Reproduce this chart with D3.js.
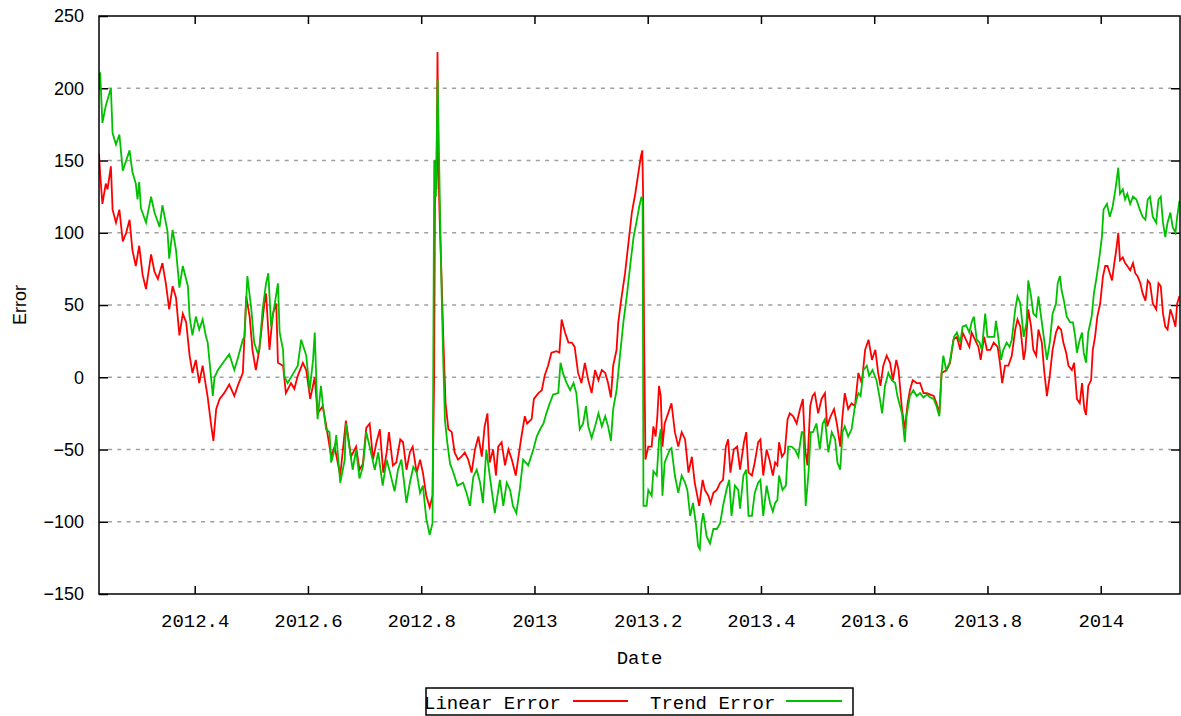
<!DOCTYPE html>
<html lang="en">

<head>
  <meta charset="UTF-8" />
  <title>Linear Error vs Trend Error</title>
  <script src="https://d3js.org/d3.v7.min.js"></script>
  <style>
    body {
      margin: 0;
      background-color: #ffffff;
    }

    .ytick text {
      font-family: "Liberation Sans", Arial, sans-serif;
      font-size: 18px;
      fill: #000;
    }

    .xtick text,
    .legend text,
    .xlabel {
      font-family: "Liberation Mono", "DejaVu Sans Mono", monospace;
      font-size: 19px;
      fill: #000;
    }

    .ylabel {
      font-family: "Liberation Sans", Arial, sans-serif;
      font-size: 18px;
      fill: #000;
    }
  </style>
</head>

<body>
  <div id="chart"></div>

  <script>
    // [date, error]
    const linearError = [
      [2012.231, 155], [2012.233, 141], [2012.237, 120], [2012.243, 134], [2012.246, 130], [2012.252, 146],
      [2012.255, 116], [2012.261, 107], [2012.267, 116], [2012.273, 94], [2012.279, 100], [2012.285, 109],
      [2012.290, 88], [2012.296, 77], [2012.302, 91], [2012.308, 71], [2012.314, 61], [2012.323, 85],
      [2012.329, 73], [2012.335, 68], [2012.343, 79], [2012.349, 65], [2012.355, 47], [2012.361, 63],
      [2012.367, 55], [2012.373, 29], [2012.379, 44], [2012.385, 38], [2012.391, 15], [2012.396, 3],
      [2012.402, 12], [2012.408, -4], [2012.414, 8], [2012.423, -14], [2012.429, -33], [2012.433, -44],
      [2012.438, -22], [2012.444, -15], [2012.452, -11], [2012.461, -5], [2012.470, -13], [2012.476, -6],
      [2012.485, 3], [2012.491, 56], [2012.497, 42], [2012.502, 19], [2012.508, 5], [2012.514, 19],
      [2012.523, 51], [2012.526, 58], [2012.532, 19], [2012.538, 44], [2012.544, 51], [2012.547, 10],
      [2012.556, 8], [2012.561, -11], [2012.570, -4], [2012.576, -8], [2012.582, 1], [2012.591, 10],
      [2012.597, 5], [2012.604, -15], [2012.612, 0], [2012.617, -25], [2012.626, -20], [2012.632, -33],
      [2012.641, -55], [2012.647, -48], [2012.653, -60], [2012.657, -68], [2012.667, -30], [2012.676, -55],
      [2012.685, -48], [2012.691, -64], [2012.697, -60], [2012.703, -35], [2012.709, -32], [2012.715, -57],
      [2012.721, -45], [2012.727, -36], [2012.733, -66], [2012.739, -52], [2012.743, -38], [2012.750, -61],
      [2012.756, -59], [2012.763, -43], [2012.768, -45], [2012.774, -64], [2012.780, -52], [2012.785, -48],
      [2012.792, -66], [2012.798, -57], [2012.803, -66], [2012.809, -82], [2012.815, -90], [2012.820, -82],
      [2012.8223, -15], [2012.8229, 1], [2012.8246, 150], [2012.827, 130], [2012.8288, 225], [2012.8305, 143],
      [2012.833, 104], [2012.836, 68], [2012.839, 28], [2012.843, -18], [2012.848, -36], [2012.854, -38],
      [2012.859, -52], [2012.865, -57], [2012.871, -55], [2012.877, -52], [2012.883, -57], [2012.889, -66],
      [2012.895, -50], [2012.901, -41], [2012.907, -55], [2012.912, -34], [2012.917, -25], [2012.921, -59],
      [2012.927, -50], [2012.932, -68], [2012.936, -48], [2012.942, -45], [2012.948, -61], [2012.954, -50],
      [2012.960, -57], [2012.967, -68], [2012.971, -57], [2012.977, -41], [2012.983, -27], [2012.987, -32],
      [2012.995, -29], [2012.999, -15], [2013.007, -11], [2013.013, -9], [2013.018, 1], [2013.024, 8],
      [2013.030, 17], [2013.039, 18], [2013.044, 17], [2013.048, 40], [2013.054, 31], [2013.060, 24],
      [2013.066, 24], [2013.071, 21], [2013.077, 3], [2013.083, -4], [2013.089, 10], [2013.095, -2],
      [2013.101, -11], [2013.107, 5], [2013.113, -2], [2013.119, 5], [2013.125, 3], [2013.130, -4],
      [2013.135, -14], [2013.139, 8], [2013.145, 19], [2013.148, 38], [2013.154, 56], [2013.160, 72],
      [2013.166, 93], [2013.172, 114], [2013.178, 127], [2013.183, 140], [2013.188, 153], [2013.1905, 157],
      [2013.192, 124], [2013.1936, 30], [2013.196, -57], [2013.201, -48], [2013.207, -48], [2013.210, -34],
      [2013.214, -41], [2013.217, -27], [2013.220, -6], [2013.223, -13], [2013.226, -48], [2013.230, -32],
      [2013.236, -25], [2013.242, -18], [2013.248, -38], [2013.254, -48], [2013.260, -38], [2013.266, -43],
      [2013.272, -66], [2013.278, -55], [2013.283, -73], [2013.291, -89], [2013.297, -71], [2013.301, -78],
      [2013.307, -82], [2013.311, -87], [2013.316, -80], [2013.322, -78], [2013.328, -73], [2013.333, -71],
      [2013.338, -48], [2013.342, -43], [2013.346, -66], [2013.352, -50], [2013.358, -48], [2013.363, -64],
      [2013.370, -45], [2013.374, -38], [2013.378, -66], [2013.384, -68], [2013.389, -59], [2013.395, -45],
      [2013.399, -43], [2013.404, -68], [2013.410, -50], [2013.415, -57], [2013.421, -68], [2013.425, -59],
      [2013.429, -61], [2013.432, -45], [2013.437, -55], [2013.442, -52], [2013.447, -29], [2013.451, -25],
      [2013.457, -27], [2013.463, -32], [2013.469, -22], [2013.474, -15], [2013.478, -50], [2013.482, -61],
      [2013.487, -20], [2013.491, -13], [2013.495, -11], [2013.501, -25], [2013.507, -15], [2013.513, -11],
      [2013.517, -34], [2013.523, -27], [2013.529, -22], [2013.534, -32], [2013.540, -48], [2013.544, -27],
      [2013.548, -11], [2013.554, -22], [2013.560, -18], [2013.566, -20], [2013.572, 3], [2013.578, -4],
      [2013.584, 19], [2013.590, 26], [2013.596, 12], [2013.602, 19], [2013.607, 3], [2013.611, -6],
      [2013.616, 8], [2013.622, 15], [2013.628, 10], [2013.633, -2], [2013.639, 12], [2013.643, 5],
      [2013.649, -22], [2013.654, -36], [2013.659, -18], [2013.663, -9], [2013.668, -2], [2013.675, -4],
      [2013.681, -4], [2013.687, -11], [2013.693, -11], [2013.699, -12], [2013.705, -13], [2013.710, -18],
      [2013.715, -25], [2013.719, 3], [2013.728, 5], [2013.734, 10], [2013.740, 26], [2013.746, 28],
      [2013.752, 19], [2013.756, 31], [2013.762, 26], [2013.768, 21], [2013.772, 31], [2013.778, 26],
      [2013.784, 21], [2013.788, 12], [2013.794, 28], [2013.799, 19], [2013.805, 19], [2013.811, 24],
      [2013.818, 21], [2013.822, 10], [2013.826, -4], [2013.831, 8], [2013.837, 8], [2013.843, 15],
      [2013.849, 33], [2013.853, 40], [2013.858, 35], [2013.864, 12], [2013.867, 19], [2013.872, 47],
      [2013.877, 35], [2013.881, 19], [2013.886, 15], [2013.890, 33], [2013.896, 24], [2013.900, 5],
      [2013.905, -13], [2013.910, 1], [2013.915, 19], [2013.921, 31], [2013.925, 35], [2013.930, 33],
      [2013.934, 24], [2013.939, 17], [2013.943, 8], [2013.949, 5], [2013.953, 10], [2013.958, -15],
      [2013.963, -18], [2013.967, -4], [2013.971, -22], [2013.974, -26], [2013.978, -6], [2013.983, -2],
      [2013.986, 19], [2013.990, 28], [2013.994, 42], [2013.999, 51], [2014.004, 70], [2014.008, 77],
      [2014.012, 77], [2014.016, 72], [2014.020, 67], [2014.024, 79], [2014.027, 87], [2014.031, 100],
      [2014.034, 81], [2014.039, 83], [2014.043, 79], [2014.047, 77], [2014.052, 74], [2014.057, 79],
      [2014.061, 72], [2014.065, 70], [2014.070, 65], [2014.074, 58], [2014.079, 53], [2014.083, 67],
      [2014.087, 65], [2014.092, 51], [2014.098, 47], [2014.102, 65], [2014.106, 63], [2014.110, 44],
      [2014.114, 35], [2014.118, 33], [2014.123, 47], [2014.127, 42], [2014.132, 35], [2014.135, 51],
      [2014.139, 56]
    ];

    const trendError = [
      [2012.231, 200], [2012.233, 211], [2012.237, 176], [2012.243, 188], [2012.252, 200], [2012.255, 169],
      [2012.261, 161], [2012.267, 168], [2012.273, 143], [2012.285, 157], [2012.290, 142], [2012.296, 134],
      [2012.299, 123], [2012.302, 135], [2012.305, 117], [2012.314, 107], [2012.323, 125], [2012.329, 114],
      [2012.338, 104], [2012.343, 119], [2012.352, 101], [2012.355, 82], [2012.361, 102], [2012.367, 88],
      [2012.373, 62], [2012.379, 77], [2012.388, 63], [2012.391, 42], [2012.396, 29], [2012.402, 42],
      [2012.408, 33], [2012.414, 40], [2012.420, 28], [2012.423, 24], [2012.432, -13], [2012.435, 0],
      [2012.441, 5], [2012.450, 10], [2012.461, 16], [2012.470, 5], [2012.476, 13], [2012.485, 26],
      [2012.488, 28], [2012.493, 70], [2012.500, 47], [2012.505, 24], [2012.511, 17], [2012.514, 19],
      [2012.520, 47], [2012.526, 65], [2012.530, 72], [2012.535, 35], [2012.547, 65], [2012.550, 31],
      [2012.556, 19], [2012.558, 1], [2012.564, -4], [2012.573, 2], [2012.582, 8], [2012.588, 26],
      [2012.597, 15], [2012.603, -9], [2012.609, 12], [2012.612, 31], [2012.617, -29], [2012.623, -6],
      [2012.626, -18], [2012.632, -36], [2012.638, -38], [2012.641, -59], [2012.647, -50], [2012.650, -40],
      [2012.657, -73], [2012.665, -57], [2012.667, -32], [2012.679, -64], [2012.685, -50], [2012.691, -70],
      [2012.697, -62], [2012.703, -38], [2012.709, -48], [2012.718, -64], [2012.724, -52], [2012.732, -75],
      [2012.739, -57], [2012.745, -66], [2012.753, -79], [2012.759, -64], [2012.765, -57], [2012.774, -87],
      [2012.780, -73], [2012.786, -62], [2012.792, -66], [2012.798, -80], [2012.803, -75], [2012.809, -98],
      [2012.815, -109], [2012.820, -101], [2012.823, 150], [2012.826, 125], [2012.829, 206], [2012.833, 120],
      [2012.836, 60], [2012.839, 10], [2012.842, -30], [2012.846, -45], [2012.851, -60], [2012.856, -65],
      [2012.864, -75], [2012.874, -73], [2012.880, -80], [2012.886, -89], [2012.892, -69], [2012.898, -64],
      [2012.904, -73], [2012.909, -87], [2012.915, -50], [2012.921, -68], [2012.930, -94], [2012.939, -71],
      [2012.945, -89], [2012.951, -73], [2012.957, -78], [2012.962, -89], [2012.968, -94], [2012.974, -78],
      [2012.980, -57], [2012.989, -61], [2012.998, -50], [2013.004, -41], [2013.010, -36], [2013.016, -32],
      [2013.021, -25], [2013.027, -18], [2013.033, -12], [2013.042, -11], [2013.046, 10], [2013.051, 2],
      [2013.057, -4], [2013.063, -9], [2013.069, -4], [2013.074, -11], [2013.080, -36], [2013.086, -32],
      [2013.091, -20], [2013.095, -34], [2013.101, -42], [2013.107, -34], [2013.113, -25], [2013.119, -34],
      [2013.125, -27], [2013.130, -34], [2013.135, -44], [2013.139, -22], [2013.145, -9], [2013.151, 15],
      [2013.157, 38], [2013.163, 56], [2013.169, 77], [2013.175, 97], [2013.180, 107], [2013.185, 118],
      [2013.189, 125], [2013.191, 122], [2013.1925, -89], [2013.198, -89], [2013.201, -78], [2013.207, -82],
      [2013.210, -65], [2013.216, -68], [2013.220, -43], [2013.223, -36], [2013.226, -82], [2013.230, -59],
      [2013.239, -50], [2013.242, -49], [2013.248, -68], [2013.254, -80], [2013.260, -68], [2013.266, -73],
      [2013.270, -78], [2013.275, -96], [2013.280, -87], [2013.285, -101], [2013.289, -117], [2013.292, -119],
      [2013.295, -101], [2013.298, -94], [2013.304, -110], [2013.310, -115], [2013.316, -105], [2013.322, -105],
      [2013.328, -101], [2013.333, -89], [2013.339, -78], [2013.344, -71], [2013.348, -96], [2013.354, -75],
      [2013.360, -78], [2013.363, -91], [2013.369, -68], [2013.374, -64], [2013.378, -96], [2013.384, -96],
      [2013.389, -80], [2013.395, -73], [2013.399, -71], [2013.404, -96], [2013.410, -75], [2013.416, -87],
      [2013.421, -93], [2013.425, -87], [2013.429, -85], [2013.432, -68], [2013.438, -78], [2013.444, -75],
      [2013.448, -48], [2013.454, -48], [2013.460, -50], [2013.466, -55], [2013.472, -38], [2013.475, -38],
      [2013.479, -89], [2013.484, -66], [2013.488, -38], [2013.492, -38], [2013.498, -32], [2013.504, -50],
      [2013.509, -32], [2013.513, -29], [2013.519, -52], [2013.525, -38], [2013.531, -43], [2013.535, -59],
      [2013.540, -64], [2013.544, -38], [2013.548, -34], [2013.554, -41], [2013.560, -36], [2013.566, -20],
      [2013.572, -11], [2013.576, -13], [2013.581, 5], [2013.587, 8], [2013.591, 1], [2013.597, 5],
      [2013.604, -2], [2013.610, -15], [2013.614, -25], [2013.619, -6], [2013.625, 3], [2013.631, -2],
      [2013.637, -4], [2013.641, -13], [2013.649, -25], [2013.654, -45], [2013.657, -27], [2013.663, -13],
      [2013.669, -9], [2013.675, -13], [2013.681, -11], [2013.687, -14], [2013.693, -12], [2013.699, -14],
      [2013.705, -15], [2013.710, -20], [2013.715, -27], [2013.719, 3], [2013.722, 15], [2013.727, 5],
      [2013.733, 10], [2013.737, 19], [2013.741, 28], [2013.746, 31], [2013.752, 24], [2013.756, 35],
      [2013.762, 36], [2013.768, 31], [2013.772, 38], [2013.776, 42], [2013.781, 26], [2013.786, 24],
      [2013.790, 19], [2013.796, 44], [2013.800, 28], [2013.806, 28], [2013.812, 28], [2013.815, 39],
      [2013.819, 28], [2013.824, 12], [2013.828, 19], [2013.834, 24], [2013.839, 21], [2013.843, 26],
      [2013.849, 47], [2013.853, 56], [2013.858, 51], [2013.864, 28], [2013.869, 38], [2013.872, 67],
      [2013.877, 56], [2013.881, 44], [2013.886, 42], [2013.890, 56], [2013.896, 38], [2013.900, 26],
      [2013.905, 12], [2013.910, 24], [2013.915, 44], [2013.921, 51], [2013.924, 65], [2013.928, 70],
      [2013.931, 60], [2013.935, 53], [2013.940, 42], [2013.946, 38], [2013.951, 38], [2013.955, 28],
      [2013.958, 17], [2013.963, 26], [2013.967, 31], [2013.970, 17], [2013.974, 10], [2013.978, 31],
      [2013.984, 42], [2013.988, 58], [2013.993, 70], [2013.998, 84], [2014.002, 97], [2014.005, 116],
      [2014.011, 120], [2014.016, 111], [2014.021, 118], [2014.026, 130], [2014.029, 139], [2014.031, 145],
      [2014.034, 127], [2014.039, 130], [2014.043, 123], [2014.047, 127], [2014.052, 120], [2014.057, 125],
      [2014.063, 123], [2014.069, 116], [2014.074, 111], [2014.079, 109], [2014.083, 123], [2014.087, 125],
      [2014.092, 111], [2014.098, 107], [2014.102, 123], [2014.106, 125], [2014.110, 107], [2014.114, 97],
      [2014.118, 107], [2014.123, 114], [2014.127, 104], [2014.132, 100], [2014.135, 111], [2014.139, 122]
    ];

    const xTicks = [2012.4, 2012.6, 2012.8, 2013, 2013.2, 2013.4, 2013.6, 2013.8, 2014];
    const xTickLabels = ["2012.4", "2012.6", "2012.8", "2013", "2013.2", "2013.4", "2013.6", "2013.8", "2014"];
    const yTicks = [-150, -100, -50, 0, 50, 100, 150, 200, 250];
    const gridTicks = [-100, -50, 0, 50, 100, 150, 200];

    const seriesNames = ["Linear Error", "Trend Error"];
    const seriesColors = ["#ff0000", "#00c000"];

    const W = 1181, H = 716;
    const margin = { top: 16, right: 1, bottom: 122, left: 99 };
    const width = W - margin.left - margin.right;
    const height = H - margin.top - margin.bottom;

    const x = d3.scaleLinear().domain([2012.231, 2014.14]).range([0, width]);
    const y = d3.scaleLinear().domain([-150, 250]).range([height, 0]);

    const svg = d3.select("#chart")
      .append("svg")
      .attr("width", W)
      .attr("height", H)
      .append("g")
      .attr("transform", `translate(${margin.left},${margin.top})`);

    svg.append("defs").append("clipPath").attr("id", "plot-clip")
      .append("rect").attr("width", width).attr("height", height);

    // dashed grid
    svg.append("g")
      .selectAll("line")
      .data(gridTicks)
      .enter()
      .append("line")
      .attr("x1", 9)
      .attr("x2", width - 9)
      .attr("y1", d => y(d))
      .attr("y2", d => y(d))
      .attr("stroke", "#a0a0a0")
      .attr("stroke-width", 1.5)
      .attr("stroke-dasharray", "4,5.3");

    // left axis + mirrored right ticks
    const yAxis = svg.append("g")
      .attr("class", "ytick")
      .call(d3.axisLeft(y).tickValues(yTicks).tickSize(-9).tickPadding(15));
    yAxis.select(".domain").remove();
    yAxis.selectAll("line").attr("stroke", "#000").attr("stroke-width", 1.5);

    svg.append("g")
      .attr("transform", `translate(${width},0)`)
      .call(d3.axisRight(y).tickValues(gridTicks).tickSize(-9).tickFormat(""))
      .call(g => g.select(".domain").remove())
      .selectAll("line").attr("stroke", "#000").attr("stroke-width", 1.5);

    // bottom axis + mirrored top ticks
    const xAxis = svg.append("g")
      .attr("class", "xtick")
      .attr("transform", `translate(0,${height})`)
      .call(d3.axisBottom(x).tickValues(xTicks).tickSize(-8).tickPadding(20)
        .tickFormat((d, i) => xTickLabels[i]));
    xAxis.select(".domain").remove();
    xAxis.selectAll("line").attr("stroke", "#000").attr("stroke-width", 1.5);

    svg.append("g")
      .call(d3.axisTop(x).tickValues(xTicks).tickSize(-8).tickFormat(""))
      .call(g => g.select(".domain").remove())
      .selectAll("line").attr("stroke", "#000").attr("stroke-width", 1.5);

    // lines
    const line = d3.line().x(d => x(d[0])).y(d => y(d[1]));
    const plot = svg.append("g").attr("clip-path", "url(#plot-clip)");
    [linearError, trendError].forEach((series, i) => {
      plot.append("path")
        .datum(series)
        .attr("fill", "none")
        .attr("stroke", seriesColors[i])
        .attr("stroke-width", 1.8)
        .attr("stroke-linejoin", "miter")
        .attr("d", line);
    });

    // frame
    svg.append("rect")
      .attr("width", width)
      .attr("height", height)
      .attr("fill", "none")
      .attr("stroke", "#000")
      .attr("stroke-width", 1.5);

    // axis titles
    svg.append("text")
      .attr("class", "xlabel")
      .attr("x", width / 2)
      .attr("y", height + 70)
      .attr("text-anchor", "middle")
      .text("Date");

    svg.append("text")
      .attr("class", "ylabel")
      .attr("transform", `translate(${26 - margin.left},${height / 2}) rotate(-90)`)
      .attr("text-anchor", "middle")
      .text("Error");

    // legend
    const legend = d3.select("#chart svg").append("g").attr("class", "legend");
    legend.append("rect")
      .attr("x", 426)
      .attr("y", 688)
      .attr("width", 427)
      .attr("height", 27)
      .attr("fill", "#fff")
      .attr("stroke", "#000")
      .attr("stroke-width", 1.5);

    const legendPos = [
      { text: 424, x1: 573, x2: 628 },
      { text: 650, x1: 786, x2: 842 }
    ];
    seriesNames.forEach((name, i) => {
      legend.append("text")
        .attr("x", legendPos[i].text)
        .attr("y", 709)
        .text(name);
      legend.append("line")
        .attr("x1", legendPos[i].x1)
        .attr("x2", legendPos[i].x2)
        .attr("y1", 701)
        .attr("y2", 701)
        .attr("stroke", seriesColors[i])
        .attr("stroke-width", 1.8);
    });
  </script>
</body>

</html>
